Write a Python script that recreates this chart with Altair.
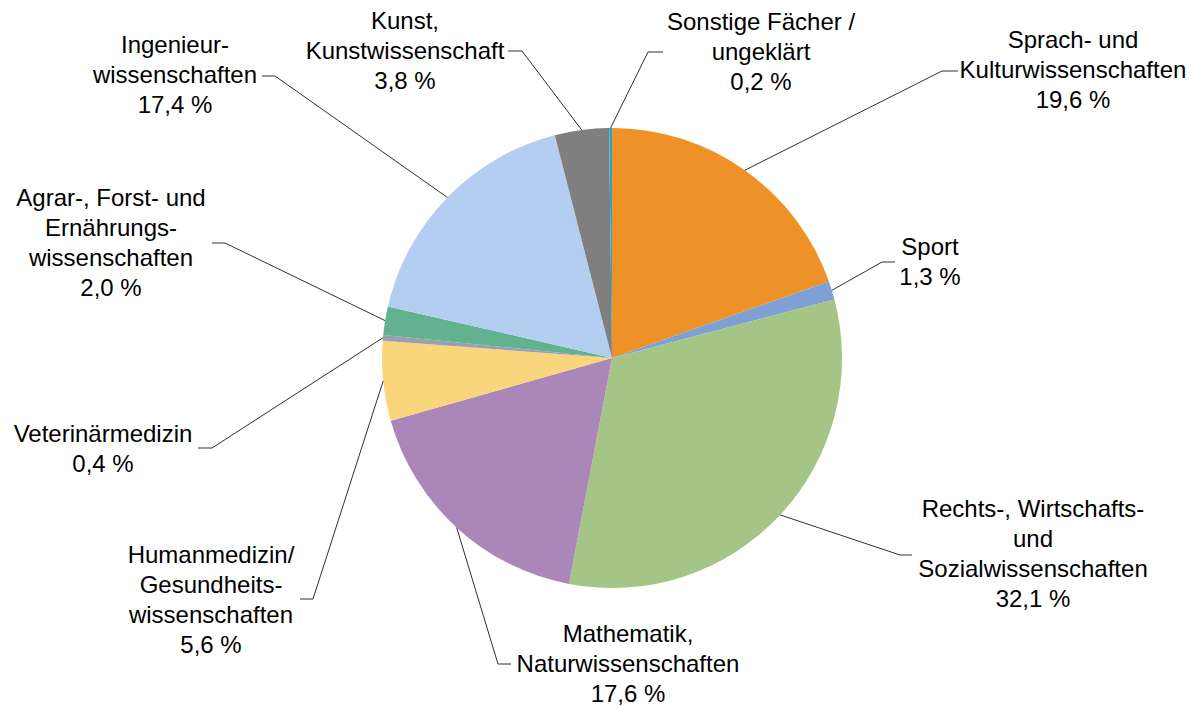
import math
import altair as alt
import pandas as pd

# ---- data ----
categories = [
    "Sprach- und Kulturwissenschaften",
    "Sport",
    "Rechts-, Wirtschafts- und Sozialwissenschaften",
    "Mathematik, Naturwissenschaften",
    "Humanmedizin/Gesundheitswissenschaften",
    "Veterinärmedizin",
    "Agrar-, Forst- und Ernährungswissenschaften",
    "Ingenieurwissenschaften",
    "Kunst, Kunstwissenschaft",
    "Sonstige Fächer / ungeklärt",
]
values = [19.6, 1.3, 32.1, 17.6, 5.6, 0.4, 2.0, 17.4, 3.8, 0.2]
label_lines = [
    ["Sprach- und", "Kulturwissenschaften"],
    ["Sport"],
    ["Rechts-, Wirtschafts-", "und", "Sozialwissenschaften"],
    ["Mathematik,", "Naturwissenschaften"],
    ["Humanmedizin/", "Gesundheits-", "wissenschaften"],
    ["Veterinärmedizin"],
    ["Agrar-, Forst- und", "Ernährungs-", "wissenschaften"],
    ["Ingenieur-", "wissenschaften"],
    ["Kunst,", "Kunstwissenschaft"],
    ["Sonstige Fächer /", "ungeklärt"],
]
colors = ["#EE9228", "#7EA0D2", "#A5C586", "#AA86B9", "#F9D57C",
          "#9AA0B0", "#62B28F", "#B4CEF1", "#7F7F7F", "#2BA5CB"]

# ---- layout (page pixel space) ----
W, H = 1179, 698
CX, CY, R = 612, 358, 230
# label centre x, first baseline y, leader elbow (x, y), leader end x
label_x = [1073, 930, 1033, 628, 211, 103, 111, 175, 405, 761]
label_y = [48, 255, 517, 642, 563, 442, 206, 53, 29, 30]
elbow_x = [942, 882, 900, 498, 313, 212, 225, 275, 522, 648]
elbow_y = [71, 262, 555, 664, 599, 448, 243, 76, 51, 52]
end_x = [958, 895, 912, 511, 300, 198, 212, 262, 508, 663]

def fmt(v):
    return f"{v:.1f}".replace(".", ",") + " %"

total = sum(values)
starts, ends = [], []
acc = 0.0
for v in values:
    starts.append(acc)
    acc += v
    ends.append(acc)

pie_df = pd.DataFrame({"cat": categories, "start": starts, "end": ends, "order": range(len(values))})

line_rows = []
for i, c in enumerate(categories):
    mid = (starts[i] + ends[i]) / 2 / total * 2 * math.pi
    sx = CX + R * math.sin(mid)
    sy = CY - R * math.cos(mid)
    pts = [(sx, sy), (elbow_x[i], elbow_y[i]), (end_x[i], elbow_y[i])]
    for k, (px, py) in enumerate(pts):
        line_rows.append({"cat": c, "k": k, "x": px, "y": py})
line_df = pd.DataFrame(line_rows)

text_df = pd.DataFrame({
    "cat": categories,
    "x": label_x,
    "y": label_y,
    "txt": [ls + [fmt(v)] for ls, v in zip(label_lines, values)],
})

xs = alt.Scale(domain=[8, 8 + W], nice=False, zero=False)
ys = alt.Scale(domain=[8 + H, 8], nice=False, zero=False)

pie = alt.Chart(pie_df).mark_arc(radius=R, stroke=None).encode(
    theta=alt.Theta("start:Q", scale=alt.Scale(domain=[0, total], range=[0, 2 * math.pi])),
    theta2="end:Q",
    color=alt.Color("cat:N", scale=alt.Scale(domain=categories, range=colors), legend=None),
    x=alt.value(CX - 8),
    y=alt.value(CY - 8),
)

lines = alt.Chart(line_df).mark_line(color="#303030", strokeWidth=1).encode(
    x=alt.X("x:Q", scale=xs, axis=None),
    y=alt.Y("y:Q", scale=ys, axis=None),
    detail="cat:N",
    order="k:Q",
)

texts = alt.Chart(text_df).mark_text(
    font="Liberation Sans", fontSize=24, lineHeight=30, align="center",
    baseline="alphabetic", color="#000000",
).encode(
    x=alt.X("x:Q", scale=xs, axis=None),
    y=alt.Y("y:Q", scale=ys, axis=None),
    text="txt",
)

chart = alt.layer(pie, lines, texts).properties(
    width=W, height=H, autosize=alt.AutoSizeParams(type="none"), padding=0,
    background="white",
).configure_view(stroke=None)

chart.save("out.html", embed_options={"renderer": "svg", "actions": False})
